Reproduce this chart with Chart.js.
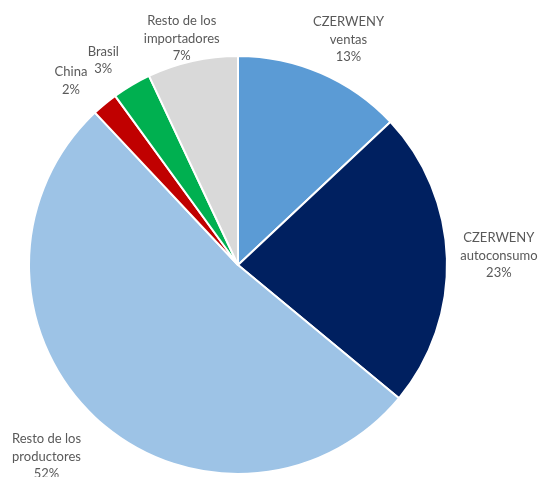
<!DOCTYPE html>
<html>
<head>
<meta charset="utf-8">
<script src="https://cdn.jsdelivr.net/npm/chart.js@4"></script>
<style>
  html, body { margin: 0; padding: 0; background: #fff; }
  #wrap { width: 544px; height: 477px; }
</style>
</head>
<body>
<div id="wrap"><canvas id="chart" width="544" height="477"></canvas></div>
<script>
// pie data, clockwise from 12 o'clock
const labels = [
  ['CZERWENY', 'ventas'],
  ['CZERWENY', 'autoconsumo'],
  ['Resto de los', 'productores'],
  ['China'],
  ['Brasil'],
  ['Resto de los', 'importadores']
];
const values = [13, 23, 52, 2, 3, 7];
const colors = ['#5B9BD5', '#002060', '#9DC3E6', '#C00000', '#00B050', '#D9D9D9'];

// label placement: extra distance outside the rim and small nudges
const labelDist = [44, 52, 62, 42, 38, 26];
const labelNudge = [[10, 7], [0, -1], [-6, -6], [-7, 9], [-9, 8], [-5, 3]];

const pieLabels = {
  id: 'pieLabels',
  afterDatasetsDraw(chart) {
    const ctx = chart.ctx;
    const arcs = chart.getDatasetMeta(0).data;
    const total = values.reduce((a, b) => a + b, 0);
    ctx.save();
    ctx.font = '13px Lato, "Open Sans", sans-serif';
    ctx.fillStyle = '#595959';
    ctx.textAlign = 'center';
    ctx.textBaseline = 'middle';
    arcs.forEach((arc, i) => {
      const mid = (arc.startAngle + arc.endAngle) / 2;
      const r = arc.outerRadius + labelDist[i];
      const cx = arc.x + Math.cos(mid) * r + labelNudge[i][0];
      const cy = arc.y + Math.sin(mid) * r + labelNudge[i][1];
      const lines = labels[i].concat([Math.round(values[i] / total * 100) + '%']);
      const lh = 17.5;
      lines.forEach((t, k) => {
        ctx.fillText(t, cx, cy + (k - (lines.length - 1) / 2) * lh);
      });
    });
    ctx.restore();
  }
};

const config = {
  type: 'pie',
  data: {
    labels: labels,
    datasets: [{
      data: values,
      backgroundColor: colors,
      borderColor: '#ffffff',
      borderWidth: 2
    }]
  },
  options: {
    responsive: false,
    animation: false,
    layout: {
      padding: { left: 28, right: 96, top: 55, bottom: 2 }
    },
    plugins: {
      legend: { display: false },
      tooltip: { enabled: false }
    }
  },
  plugins: [pieLabels]
};

const myChart = new Chart(document.getElementById('chart'), config);
</script>
</body>
</html>
